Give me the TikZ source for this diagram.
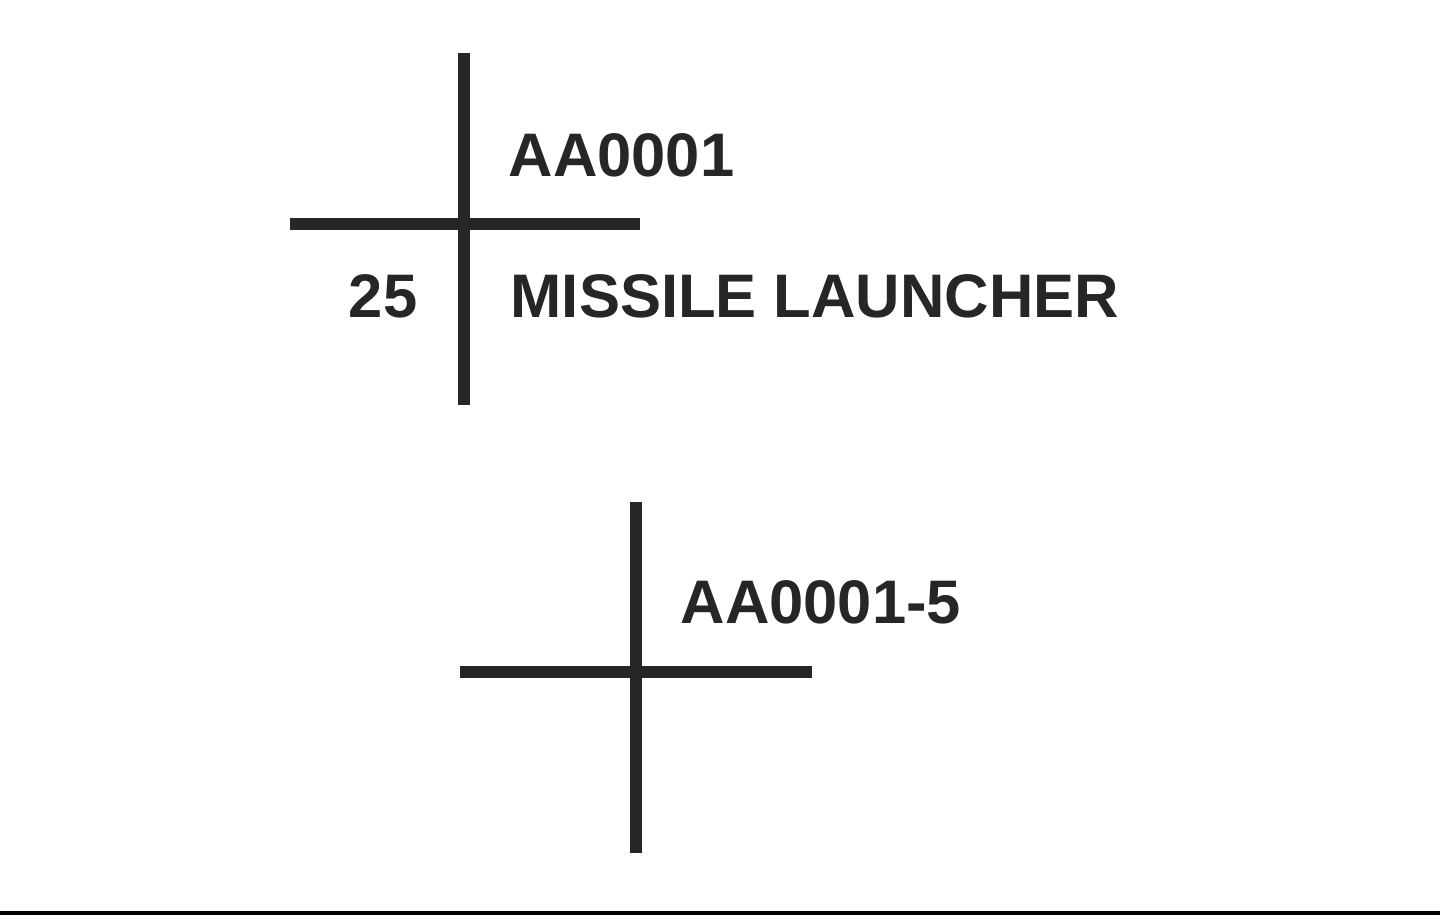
\documentclass[tikz,border=0pt]{standalone}
\usepackage{fontspec}
\setmainfont{Liberation Sans}
\usetikzlibrary{positioning, calc}
\tikzset{
  crossline/.style={line width=3.4pt, color=black!85},
  label/.style={inner sep=0pt, font=\bfseries\fontsize{17.5pt}{20pt}\selectfont, color=black!85}
}
\begin{document}
\begin{tikzpicture}
  \useasboundingbox (0,0) rectangle (14.4,9.18);
  
  % upper cross
  \coordinate (upper) at (4.64,6.94);
  \draw[crossline] ($(upper)+(0,1.71)$) -- ($(upper)+(0,-1.81)$);
  \draw[crossline] ($(upper)+(-1.74,0)$) -- ($(upper)+(1.76,0)$);
  \node[label, anchor=base west] (id) at (5.08,7.41) {AA0001};
  \node[label, anchor=base west] (name) at (5.10,6.00) {MISSILE LAUNCHER};
  \node[label, anchor=base east] (count) at (4.18,6.00) {25};
  
  % lower cross
  \coordinate (lower) at (6.36,2.46);
  \draw[crossline] ($(lower)+(0,1.70)$) -- ($(lower)+(0,-1.81)$);
  \draw[crossline] ($(lower)+(-1.76,0)$) -- ($(lower)+(1.76,0)$);
  \node[label, anchor=base west] (subid) at (6.80,2.94) {AA0001-5};
  
  \draw[line width=1.2pt] (0,0.05) -- (14.4,0.05);
\end{tikzpicture}
\end{document}
